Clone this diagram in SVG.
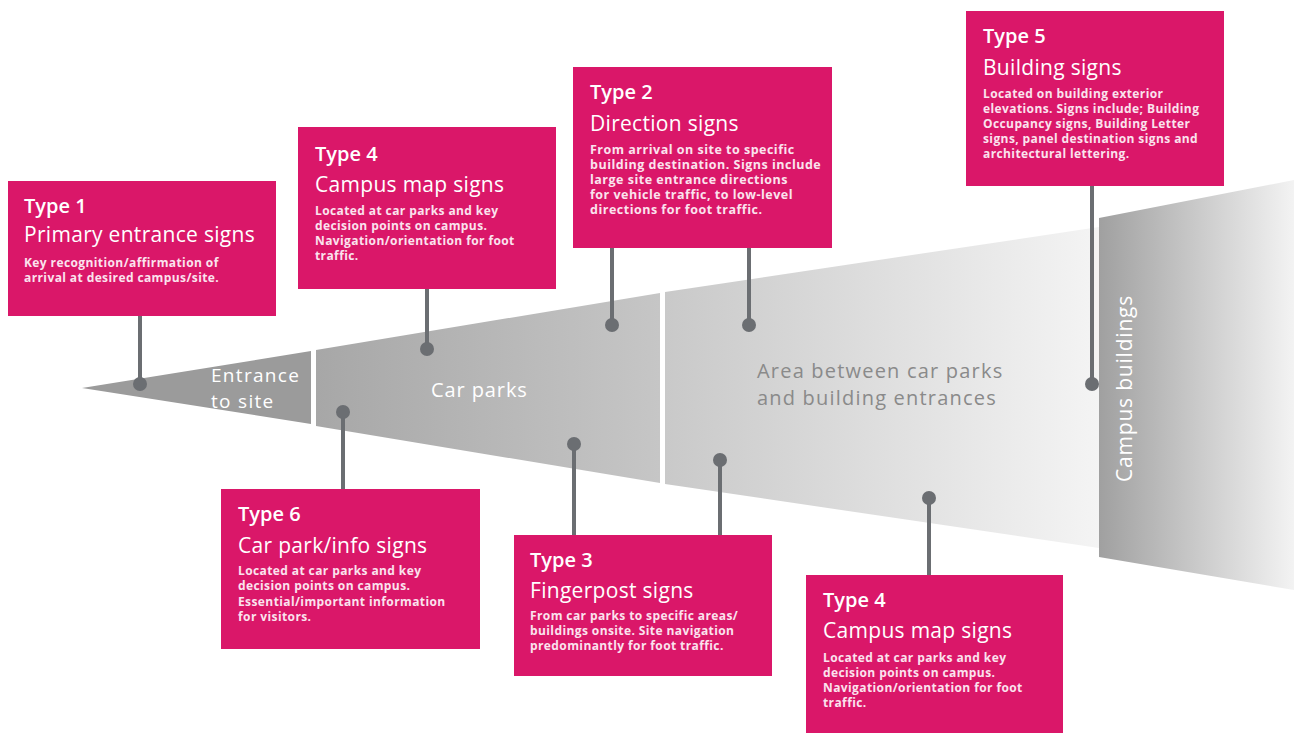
<svg xmlns="http://www.w3.org/2000/svg" width="1294" height="733" viewBox="0 0 1294 733">
  <defs>
    <linearGradient id="gSeg2" x1="316" y1="0" x2="660" y2="0" gradientUnits="userSpaceOnUse">
      <stop offset="0" stop-color="#a7a7a7"/>
      <stop offset="1" stop-color="#c6c6c6"/>
    </linearGradient>
    <linearGradient id="gSeg3" x1="665" y1="0" x2="1099" y2="0" gradientUnits="userSpaceOnUse">
      <stop offset="0" stop-color="#c9c9c9"/>
      <stop offset="1" stop-color="#f4f4f4"/>
    </linearGradient>
    <linearGradient id="gBuild" x1="1099" y1="0" x2="1294" y2="0" gradientUnits="userSpaceOnUse">
      <stop offset="0" stop-color="#a0a0a0"/>
      <stop offset="1" stop-color="#f3f3f3"/>
    </linearGradient>
    <style>
      .box { fill: #da1769; }
      .type { font-family: "Open Sans", Lato, sans-serif; font-size: 20px; font-weight: 600; fill: #ffffff; }
      .name { font-family: "Open Sans", Lato, sans-serif; font-size: 21px; font-weight: 400; fill: #ffffff; letter-spacing: 0.3px; }
      .body { font-family: "Open Sans", Lato, sans-serif; font-size: 12px; font-weight: 700; fill: #fbe3ee; letter-spacing: 0.4px; }
      .body.lg { font-size: 12.5px; letter-spacing: 0.5px; }
      .zone { font-family: "Open Sans", Lato, sans-serif; font-size: 20px; font-weight: 400; fill: #ffffff; letter-spacing: 0.9px; }
      .zone.sm { font-size: 19px; letter-spacing: 1.3px; }
      .zoneDark { font-family: "Open Sans", Lato, sans-serif; font-size: 20px; font-weight: 400; fill: #8a8a8a; letter-spacing: 1.2px; }
      .stem { stroke: #6b6e72; stroke-width: 4; fill: none; }
      .dot { fill: #6b6e72; }
    </style>
  </defs>

  <rect width="1294" height="733" fill="#ffffff"/>

  <!-- Funnel of zones -->
  <g id="zone-entrance">
    <polygon points="82,388 311,351 311,424" fill="#9b9b9b"/>
    <text class="zone sm" x="211" y="382">Entrance</text>
    <text class="zone sm" x="211" y="408">to site</text>
  </g>
  <g id="zone-carparks">
    <polygon points="316,350 660,293 660,483 316,426" fill="url(#gSeg2)"/>
    <text class="zone" x="431" y="397">Car parks</text>
  </g>
  <g id="zone-area">
    <polygon points="665,292 1099,227 1099,548 665,484" fill="url(#gSeg3)"/>
    <text class="zoneDark" x="757" y="378">Area between car parks</text>
    <text class="zoneDark" x="757" y="405">and building entrances</text>
  </g>
  <g id="zone-buildings">
    <polygon points="1099,218 1294,180 1294,590 1099,557" fill="url(#gBuild)"/>
    <text class="zone" style="font-size:21px;letter-spacing:0.8px" transform="translate(1132,482) rotate(-90)">Campus buildings</text>
  </g>

  <!-- Leader lines from sign boxes to their positions -->
  <g id="connectors">
    <line class="stem" x1="140" y1="316" x2="140" y2="384"/>
    <circle class="dot" cx="140" cy="384" r="7"/>
    <line class="stem" x1="427" y1="289" x2="427" y2="349"/>
    <circle class="dot" cx="427" cy="349" r="7"/>
    <line class="stem" x1="612" y1="248" x2="612" y2="325"/>
    <circle class="dot" cx="612" cy="325" r="7"/>
    <line class="stem" x1="749" y1="248" x2="749" y2="325"/>
    <circle class="dot" cx="749" cy="325" r="7"/>
    <line class="stem" x1="1092" y1="186" x2="1092" y2="384"/>
    <circle class="dot" cx="1092" cy="384" r="7"/>
    <line class="stem" x1="343" y1="412" x2="343" y2="489"/>
    <circle class="dot" cx="343" cy="412" r="7"/>
    <line class="stem" x1="574" y1="444" x2="574" y2="535"/>
    <circle class="dot" cx="574" cy="444" r="7"/>
    <line class="stem" x1="720" y1="460" x2="720" y2="535"/>
    <circle class="dot" cx="720" cy="460" r="7"/>
    <line class="stem" x1="929" y1="498" x2="929" y2="575"/>
    <circle class="dot" cx="929" cy="498" r="7"/>
  </g>

  <!-- Sign type boxes -->
  <g id="type1">
    <rect class="box" x="8" y="181" width="268" height="135"/>
    <text class="type" x="24" y="213">Type 1</text>
    <text class="name" x="24" y="242">Primary entrance signs</text>
    <text class="body" x="24" y="267">Key recognition/affirmation of</text>
    <text class="body" x="24" y="282">arrival at desired campus/site.</text>
  </g>
  <g id="type4-top">
    <rect class="box" x="298" y="127" width="258" height="162"/>
    <text class="type" x="315" y="161">Type 4</text>
    <text class="name" x="315" y="192">Campus map signs</text>
    <text class="body" x="315" y="215">Located at car parks and key</text>
    <text class="body" x="315" y="230">decision points on campus.</text>
    <text class="body" x="315" y="245">Navigation/orientation for foot</text>
    <text class="body" x="315" y="260">traffic.</text>
  </g>
  <g id="type2">
    <rect class="box" x="573" y="67" width="259" height="181"/>
    <text class="type" x="590" y="99">Type 2</text>
    <text class="name" x="590" y="131">Direction signs</text>
    <text class="body lg" x="590" y="154">From arrival on site to specific</text>
    <text class="body lg" x="590" y="169">building destination. Signs include</text>
    <text class="body lg" x="590" y="184">large site entrance directions</text>
    <text class="body lg" x="590" y="199">for vehicle traffic, to low-level</text>
    <text class="body lg" x="590" y="214">directions for foot traffic.</text>
  </g>
  <g id="type5">
    <rect class="box" x="966" y="11" width="258" height="175"/>
    <text class="type" x="983" y="43">Type 5</text>
    <text class="name" x="983" y="75">Building signs</text>
    <text class="body" x="983" y="98">Located on building exterior</text>
    <text class="body" x="983" y="113">elevations. Signs include; Building</text>
    <text class="body" x="983" y="128">Occupancy signs, Building Letter</text>
    <text class="body" x="983" y="143">signs, panel destination signs and</text>
    <text class="body" x="983" y="158">architectural lettering.</text>
  </g>
  <g id="type6">
    <rect class="box" x="221" y="489" width="259" height="160"/>
    <text class="type" x="238" y="521">Type 6</text>
    <text class="name" x="238" y="553">Car park/info signs</text>
    <text class="body" x="238" y="575">Located at car parks and key</text>
    <text class="body" x="238" y="590">decision points on campus.</text>
    <text class="body" x="238" y="606">Essential/important information</text>
    <text class="body" x="238" y="621">for visitors.</text>
  </g>
  <g id="type3">
    <rect class="box" x="514" y="535" width="258" height="141"/>
    <text class="type" x="530" y="567">Type 3</text>
    <text class="name" x="530" y="598">Fingerpost signs</text>
    <text class="body" x="530" y="620">From car parks to specific areas/</text>
    <text class="body" x="530" y="635">buildings onsite. Site navigation</text>
    <text class="body" x="530" y="650">predominantly for foot traffic.</text>
  </g>
  <g id="type4-bottom">
    <rect class="box" x="806" y="575" width="257" height="158"/>
    <text class="type" x="823" y="607">Type 4</text>
    <text class="name" x="823" y="638">Campus map signs</text>
    <text class="body" x="823" y="662">Located at car parks and key</text>
    <text class="body" x="823" y="677">decision points on campus.</text>
    <text class="body" x="823" y="692">Navigation/orientation for foot</text>
    <text class="body" x="823" y="707">traffic.</text>
  </g>
</svg>
